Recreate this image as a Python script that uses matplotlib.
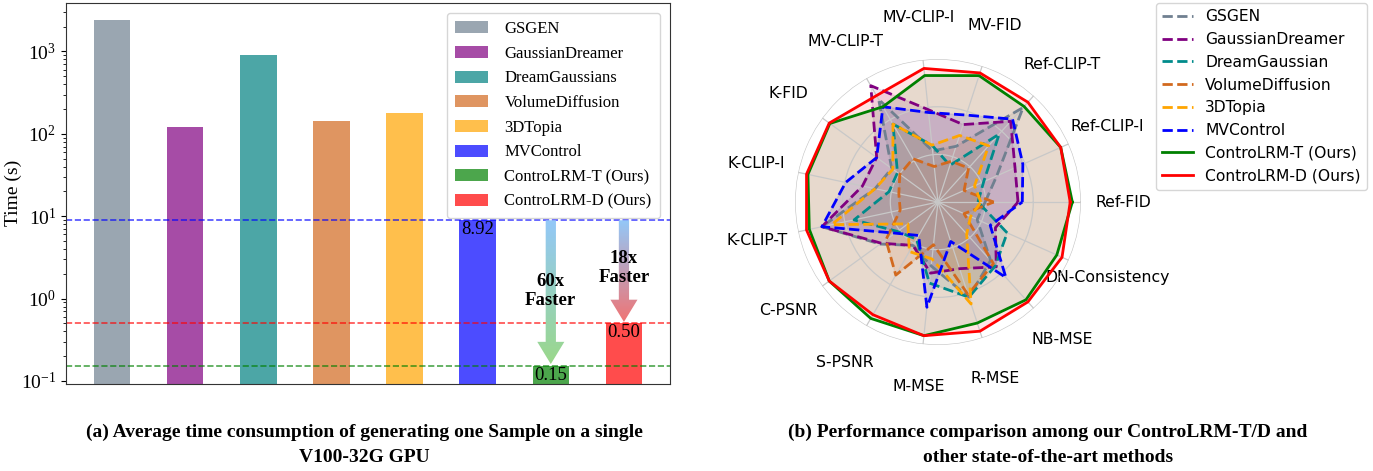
import numpy as np
import matplotlib.pyplot as plt
from matplotlib.patches import Polygon
from matplotlib.colors import LinearSegmentedColormap

# ---- bar chart data ----
methods = ['GSGEN', 'GaussianDreamer', 'DreamGaussians', 'VolumeDiffusion', '3DTopia',
           'MVControl', 'ControLRM-T (Ours)', 'ControLRM-D (Ours)']
times = [2380, 120, 900, 145, 180, 8.92, 0.15, 0.50]
bar_colors = ['slategray', 'purple', 'teal', 'chocolate', 'orange', 'blue', 'green', 'red']

# ---- radar data ----
metrics = ['Ref-FID', 'Ref-CLIP-I', 'Ref-CLIP-T', 'MV-FID', 'MV-CLIP-I', 'MV-CLIP-T', 'K-FID',
           'K-CLIP-I', 'K-CLIP-T', 'C-PSNR', 'S-PSNR', 'M-MSE', 'R-MSE', 'NB-MSE', 'DN-Consistency']
radar_names = ['GSGEN', 'GaussianDreamer', 'DreamGaussian', 'VolumeDiffusion', '3DTopia',
               'MVControl', 'ControLRM-T (Ours)', 'ControLRM-D (Ours)']
gsgen = [0.33, 0.45, 0.89, 0.41, 0.36, 0.83, 0.40, 0.45, 0.83, 0.50, 0.35, 0.45, 0.70, 0.55, 0.30]
gaussian_dreamer = [0.56, 0.59, 0.76, 0.57, 0.65, 0.94, 0.53, 0.54, 0.83, 0.49, 0.35, 0.50, 0.49, 0.61, 0.44]
dream_gaussian = [0.28, 0.35, 0.64, 0.27, 0.40, 0.63, 0.35, 0.35, 0.60, 0.35, 0.30, 0.57, 0.70, 0.60, 0.53]
volume_diffusion = [0.39, 0.20, 0.32, 0.30, 0.25, 0.35, 0.33, 0.28, 0.27, 0.45, 0.59, 0.30, 0.68, 0.58, 0.20]
topia = [0.30, 0.28, 0.53, 0.49, 0.40, 0.63, 0.39, 0.45, 0.76, 0.26, 0.40, 0.40, 0.75, 0.30, 0.25]
mvcontrol = [0.59, 0.65, 0.78, 0.64, 0.63, 0.77, 0.53, 0.66, 0.83, 0.37, 0.27, 0.74, 0.29, 0.71, 0.40]
controlrm_t = [0.94, 0.94, 0.90, 0.93, 0.89, 0.77, 0.935, 0.93, 0.92, 0.94, 0.94, 0.94, 0.89, 0.92, 0.91]
controlrm_d = [0.925, 0.94, 0.94, 0.95, 0.94, 0.86, 0.94, 0.94, 0.94, 0.94, 0.91, 0.94, 0.95, 0.94, 0.95]
radar_series = [gsgen, gaussian_dreamer, dream_gaussian, volume_diffusion, topia, mvcontrol,
                controlrm_t, controlrm_d]
radar_colors = ['slategray', 'purple', 'darkcyan', 'chocolate', 'orange', 'blue', 'green', 'red']
radar_styles = ['--', '--', '--', '--', '--', '--', '-', '-']

serif = 'Liberation Serif'
sans = 'DejaVu Sans'
plt.rcParams['font.family'] = serif
plt.rcParams['mathtext.fontset'] = 'stix'

fig = plt.figure(figsize=(13.73, 4.71), dpi=100)

# ================= (a) bar chart =================
rect = [0.048, 0.185, 0.440, 0.809]
ax = fig.add_axes(rect)
x = np.arange(len(methods))
ax.bar(x, times, width=0.5, color=bar_colors, alpha=0.7, label=methods)
ax.set_yscale('log')
ax.set_ylim(0.092, 3900)
ax.set_xlim(-0.63, 7.63)
ax.set_xticks([])
ax.set_ylabel('Time (s)', fontsize=14)
ax.yaxis.set_label_coords(-0.073, 0.5)
ax.tick_params(axis='y', labelsize=14)
for s in ax.spines.values():
    s.set_color('#333333')

for i, c in zip([5, 7, 6], ['blue', 'red', 'green']):
    ax.axhline(times[i], color=c, ls='--', lw=1.2, alpha=0.7)
for i in [5, 6, 7]:
    ax.text(x[i], times[i] * 0.97, f'{times[i]:.2f}', ha='center', va='top',
            fontsize=13.5, zorder=5)

ax.legend(loc='upper right', fontsize=12, handlelength=1.95, handleheight=0.75,
          labelspacing=0.52, borderpad=0.5, handletextpad=1.0, borderaxespad=0.6)

# gradient arrows on an overlay axes in log10 space
ov = fig.add_axes(rect, zorder=3)
ov.set_xlim(ax.get_xlim())
ov.set_ylim(np.log10(ax.get_ylim()))
ov.axis('off')


def grad_arrow(xc, y0, y1, end_color, head_len=0.27, shaft_w=0.14, head_w=0.37):
    yb = y1 + head_len
    pts = [(xc - shaft_w / 2, y0), (xc + shaft_w / 2, y0), (xc + shaft_w / 2, yb),
           (xc + head_w / 2, yb), (xc, y1), (xc - head_w / 2, yb), (xc - shaft_w / 2, yb)]
    poly = Polygon(pts, closed=True, facecolor='none', edgecolor='none')
    ov.add_patch(poly)
    cmap = LinearSegmentedColormap.from_list('g', ['#93c8f8', end_color])
    grad = np.linspace(0, 1, 256).reshape(-1, 1)
    im = ov.imshow(grad, cmap=cmap, aspect='auto', origin='upper',
                   extent=(xc - head_w / 2, xc + head_w / 2, y1, y0))
    im.set_clip_path(poly)


grad_arrow(6, np.log10(times[5]), np.log10(0.16), '#9ad88a')
grad_arrow(7, np.log10(times[5]), np.log10(0.52), '#f07474')
ov.set_xlim(ax.get_xlim())
ov.set_ylim(np.log10(ax.get_ylim()))
ov.text(6, np.log10(1.22), '60x\nFaster', ha='center', va='center',
        fontweight='bold', fontsize=13.5, linespacing=1.15)
ov.text(7, np.log10(2.35), '18x\nFaster', ha='center', va='center',
        fontweight='bold', fontsize=13.5, linespacing=1.15)

# ================= (b) radar =================
angles = np.linspace(0, 2 * np.pi, len(metrics), endpoint=False)
rax = fig.add_axes([0.579, 0.2675, 0.2083, 0.607], projection='polar')
closed = np.concatenate([angles, angles[:1]])
for vals, name, c, ls in zip(radar_series, radar_names, radar_colors, radar_styles):
    v = np.concatenate([vals, vals[:1]])
    rax.plot(closed, v, color=c, ls=ls, lw=2, label=name)
    rax.fill(closed, v, color=c, alpha=0.1)
rax.set_ylim(0, 1)
rax.set_yticks([1 / 3, 2 / 3, 1.0])
rax.set_yticklabels([])
rax.set_thetagrids(np.degrees(angles), metrics, fontsize=11.3, fontfamily=sans)
rax.tick_params(axis='x', pad=20)
rax.spines['polar'].set_visible(False)
rax.grid(color='#c8c8c8', lw=0.9)

rax.legend(loc='upper right', bbox_to_anchor=(1367 / 1373, 1 - 3 / 471),
           bbox_transform=fig.transFigure, borderaxespad=0,
           prop={'family': sans, 'size': 11.2}, handlelength=2.0, labelspacing=0.5)

# ================= captions =================
fig.text(0.2655, 0.055, '(a) Average time consumption of generating one Sample on a single\nV100-32G GPU',
         ha='center', va='center', fontweight='bold', fontsize=14, linespacing=1.65)
fig.text(0.763, 0.055, '(b) Performance comparison among our ControLRM-T/D and\nother state-of-the-art methods',
         ha='center', va='center', fontweight='bold', fontsize=14, linespacing=1.65)

fig.savefig('out.png', dpi=100)
